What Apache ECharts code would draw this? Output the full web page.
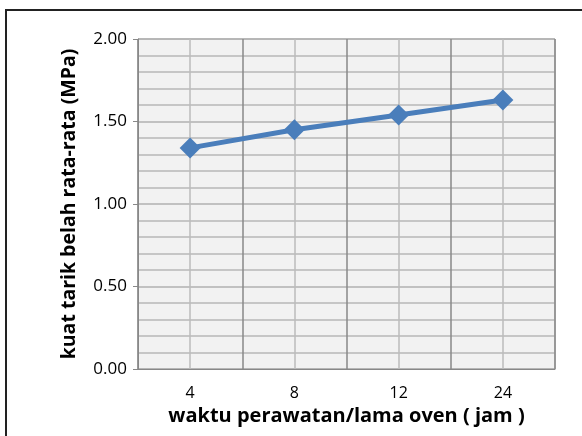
<!DOCTYPE html>
<html>
<head>
<meta charset="utf-8">
<script src="https://cdn.jsdelivr.net/npm/echarts@6/dist/echarts.min.js"></script>
<style>
  html, body { margin: 0; padding: 0; background: #fff; }
  #chart { width: 582px; height: 436px; }
</style>
</head>
<body>
<div id="chart"></div>
<script>
// data
const categories = ['4', '8', '12', '24'];
const kuatTarik = [1.34, 1.45, 1.54, 1.63];
const yTitle = 'kuat tarik belah rata-rata (MPa)';
const xTitle = 'waktu perawatan/lama oven ( jam )';

const font = '"Open Sans", "Noto Sans", sans-serif';

var myChart = echarts.init(document.getElementById('chart'), null, { renderer: 'canvas' });

var option = {
  animation: false,
  backgroundColor: '#fff',
  graphic: [
    {
      type: 'rect',
      shape: { x: 6, y: 10, width: 620, height: 460 },
      style: { fill: null, stroke: '#222', lineWidth: 2 },
      z: 100
    }
  ],
  grid: {
    left: 138, right: 27, top: 39, bottom: 67,
    show: true,
    backgroundColor: '#f2f2f2',
    borderColor: '#999',
    borderWidth: 1
  },
  xAxis: [
    {
      type: 'category',
      data: categories,
      boundaryGap: true,
      axisLine: { show: true, lineStyle: { color: '#888', width: 1 } },
      axisTick: { show: false },
      axisLabel: { color: '#000', fontFamily: font, fontSize: 16, margin: 16 },
      splitLine: { show: false },
      name: xTitle,
      nameLocation: 'middle',
      nameGap: 35,
      nameTextStyle: { color: '#000', fontFamily: font, fontSize: 20, fontWeight: 'bold' }
    },
    {
      // helper axis only for the vertical grid lines
      type: 'value',
      min: 0, max: 8, interval: 1,
      position: 'bottom',
      axisLine: { show: false },
      axisTick: { show: false },
      axisLabel: { show: false },
      splitLine: { show: true, lineStyle: { color: ['#888', '#bbb'], width: 1.5 } }
    }
  ],
  yAxis: {
    type: 'value',
    min: 0, max: 2, interval: 0.5,
    axisLine: { show: true, lineStyle: { color: '#888', width: 1 } },
    axisTick: { show: true, length: 5, lineStyle: { color: '#888' } },
    axisLabel: {
      color: '#000', fontFamily: font, fontSize: 17, margin: 11,
      formatter: v => v.toFixed(2)
    },
    splitLine: { show: true, lineStyle: { color: '#b0b0b0', width: 1.5 } },
    minorTick: { show: false, splitNumber: 5 },
    minorSplitLine: { show: true, lineStyle: { color: '#b8b8b8', width: 1.5 } },
    name: yTitle,
    nameLocation: 'middle',
    nameGap: 59,
    nameTextStyle: { color: '#000', fontFamily: font, fontSize: 19.5, fontWeight: 'bold' }
  },
  series: [
    {
      type: 'line',
      xAxisIndex: 0,
      data: kuatTarik,
      symbol: 'diamond',
      symbolSize: 21,
      lineStyle: { color: '#4a7ebb', width: 5 },
      itemStyle: { color: '#4a7ebb' },
      z: 10
    }
  ]
};
myChart.setOption(option);
</script>
</body>
</html>
